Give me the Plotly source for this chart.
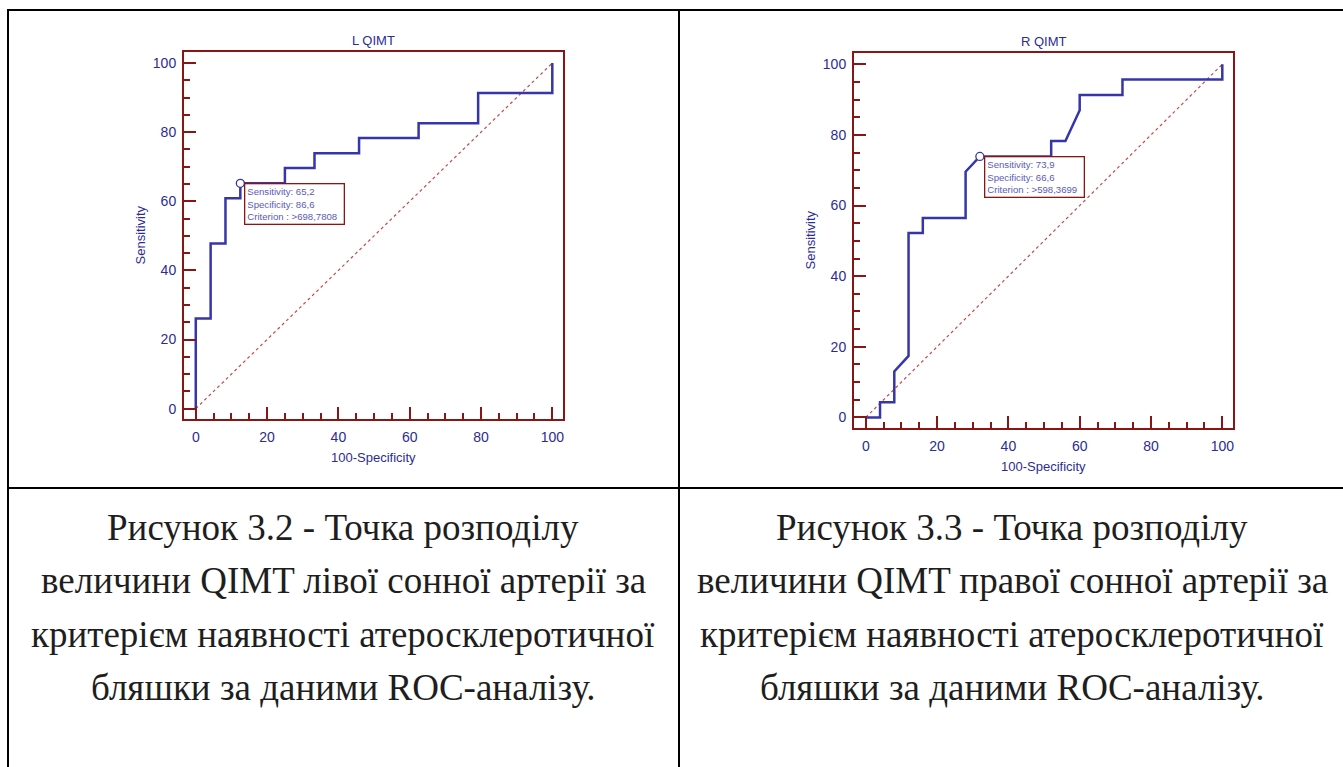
import plotly.graph_objects as go

W, H = 1343, 767

# ---------------- data ----------------
# Left chart: L QIMT (x = 100-Specificity, y = Sensitivity)
l_fpr = [0, 0, 4.17, 4.17, 8.33, 8.33, 12.5, 12.5, 25, 25, 33.3, 33.3, 45.8, 45.8,
         62.5, 62.5, 79.2, 79.2, 100, 100]
l_sens = [0, 26.1, 26.1, 47.8, 47.8, 60.9, 60.9, 65.2, 65.2, 69.6, 69.6, 73.9, 73.9, 78.3,
          78.3, 82.6, 82.6, 91.3, 91.3, 100]
l_crit_x, l_crit_y = 12.5, 65.2
l_box = ["Sensitivity: 65,2", "Specificity: 86,6", "Criterion : >698,7808"]

# Right chart: R QIMT
r_fpr = [0, 4, 4, 8, 8, 12, 12, 16, 16, 28, 28, 32, 52, 52, 56, 60, 60, 72, 72, 100, 100]
r_sens = [0, 0, 4.3, 4.3, 13.0, 17.4, 52.2, 52.2, 56.5, 56.5, 69.6, 73.9, 73.9, 78.3,
          78.3, 87.0, 91.3, 91.3, 95.7, 95.7, 100]
r_crit_x, r_crit_y = 32, 73.9
r_box = ["Sensitivity: 73,9", "Specificity: 66,6", "Criterion : >598,3699"]

diag = [0, 100]
ticks_major = [0, 20, 40, 60, 80, 100]

titles = ["L QIMT", "R QIMT"]
captions = [
    ["Рисунок 3.2 - Точка розподілу",
     "величини QIMT лівої сонної артерії за",
     "критерієм наявності атеросклеротичної",
     "бляшки за даними ROC-аналізу."],
    ["Рисунок 3.3 - Точка розподілу",
     "величини QIMT правої сонної артерії за",
     "критерієм наявності атеросклеротичної",
     "бляшки за даними ROC-аналізу."],
]

# ---------------- style ----------------
FRAME = "#8b1414"
BLUE_TXT = "#2c2c94"
CURVE = "#3636a8"
BOX_TXT = "#5a5ab8"
SANS = "Liberation Sans, Arial, sans-serif"
SERIF = "Liberation Serif, Times New Roman, serif"

def px_x(p):
    return p / W

def px_y(p):
    return 1 - p / H

# plot frames in pixels (left, right, top, bottom)
frames = [(184, 563, 52, 419), (854, 1233, 53, 428)]

fig = go.Figure()

series = [(l_fpr, l_sens, l_crit_x, l_crit_y, l_box),
          (r_fpr, r_sens, r_crit_x, r_crit_y, r_box)]

for i, (fx, fy, cx, cy, box) in enumerate(series):
    xa = "x" if i == 0 else "x2"
    ya = "y" if i == 0 else "y2"
    fig.add_trace(go.Scatter(x=diag, y=diag, mode="lines", xaxis=xa, yaxis=ya,
                             line=dict(color="#c84848", width=1.2, dash="dot"),
                             showlegend=False, hoverinfo="skip"))
    fig.add_trace(go.Scatter(x=fx, y=fy, mode="lines", xaxis=xa, yaxis=ya,
                             line=dict(color=CURVE, width=2.5),
                             showlegend=False))
    fig.add_trace(go.Scatter(x=[cx], y=[cy], mode="markers", xaxis=xa, yaxis=ya,
                             marker=dict(symbol="circle", size=8, color="white",
                                         line=dict(color=CURVE, width=1.3)),
                             showlegend=False))
    # info box
    fig.add_annotation(x=cx, y=cy, xref=xa, yref=ya, xanchor="left", yanchor="top",
                       xshift=4, yshift=0,
                       text="<br>".join(box), align="left", valign="top",
                       width=94, height=35, borderpad=2, borderwidth=1.3,
                       bordercolor=FRAME, bgcolor="white", showarrow=False,
                       font=dict(family=SANS, size=9.6, color=BOX_TXT))

    l, r, t, b = frames[i]
    axis_common = dict(showline=True, linecolor=FRAME, linewidth=2, mirror=True,
                       ticks="inside", ticklen=12, tickwidth=2, tickcolor=FRAME,
                       tickvals=ticks_major, showgrid=False, zeroline=False,
                       tickfont=dict(family=SANS, size=14, color=BLUE_TXT),
                       minor=dict(ticks="inside", ticklen=6, tickwidth=2,
                                  tickcolor=FRAME, dtick=5, tick0=0, showgrid=False))
    xkey = "xaxis" if i == 0 else "xaxis2"
    ykey = "yaxis" if i == 0 else "yaxis2"
    fig.update_layout(**{
        xkey: dict(axis_common, domain=[px_x(l), px_x(r)], range=[-3.3, 103],
                   anchor=ya, ticklabelstandoff=4),
        ykey: dict(axis_common, domain=[px_y(b), px_y(t)], range=[-3, 103.2],
                   anchor=xa, ticklabelstandoff=3),
    })
    # title
    fig.add_annotation(x=(l + r) / 2 / W, y=px_y(t), xref="paper", yref="paper",
                       xanchor="center", yanchor="bottom", yshift=2,
                       text=titles[i], showarrow=False,
                       font=dict(family=SANS, size=13, color=BLUE_TXT))
    # axis titles
    fig.add_annotation(x=(l + r) / 2 / W, y=px_y(b + 38), xref="paper", yref="paper",
                       xanchor="center", yanchor="middle",
                       text="100-Specificity", showarrow=False,
                       font=dict(family=SANS, size=13, color=BLUE_TXT))
    fig.add_annotation(x=px_x(l - 44), y=px_y((t + b) / 2), xref="paper", yref="paper",
                       xanchor="center", yanchor="middle", textangle=-90,
                       text="Sensitivity", showarrow=False,
                       font=dict(family=SANS, size=13, color=BLUE_TXT))

# captions
cap_centers = [343, 1012]
cap_rows = [527, 580, 634, 687]
for i, lines in enumerate(captions):
    for j, line in enumerate(lines):
        fig.add_annotation(x=px_x(cap_centers[i]), y=px_y(cap_rows[j]),
                           xref="paper", yref="paper", xanchor="center",
                           yanchor="middle", text=line, showarrow=False,
                           font=dict(family=SERIF, size=37, color="#1e1e1e"))

# table lines
tbl = dict(color="black", width=2)
fig.add_shape(type="line", xref="paper", yref="paper", x0=px_x(7), x1=1.01,
              y0=px_y(10), y1=px_y(10), line=tbl)
fig.add_shape(type="line", xref="paper", yref="paper", x0=px_x(8), x1=px_x(8),
              y0=px_y(10), y1=-0.01, line=tbl)
fig.add_shape(type="line", xref="paper", yref="paper", x0=px_x(679), x1=px_x(679),
              y0=px_y(10), y1=-0.01, line=tbl)
fig.add_shape(type="line", xref="paper", yref="paper", x0=px_x(7), x1=1.01,
              y0=px_y(488), y1=px_y(488), line=tbl)

fig.update_layout(width=W, height=H, margin=dict(l=0, r=0, t=0, b=0),
                  paper_bgcolor="white", plot_bgcolor="white", showlegend=False)

fig.write_html("out.html")
